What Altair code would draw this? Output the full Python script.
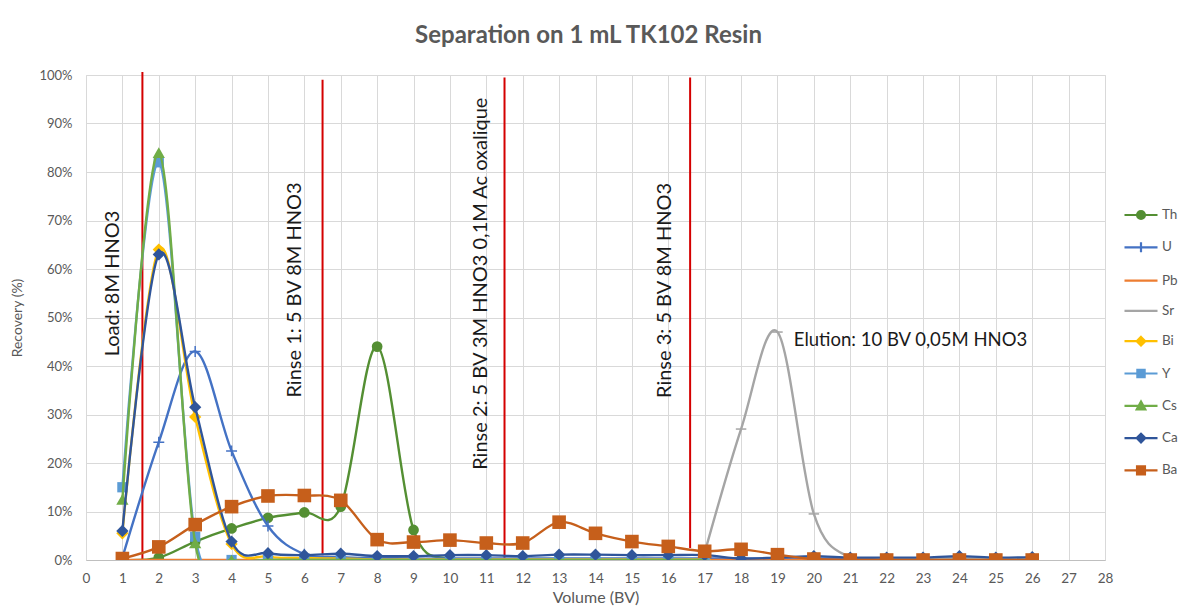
import altair as alt
import pandas as pd

series = ["Th", "U", "Pb", "Sr", "Bi", "Y", "Cs", "Ca", "Ba"]
colors = ["#548f33", "#4472c4", "#ed7d31", "#a5a5a5", "#ffc000", "#5b9bd5", "#70ad47", "#2f559a", "#c65f1b"]

volume = list(range(1, 27))

th = [0, 0.5, 3.8, 6.5, 8.7, 9.8, 11.0, 44.0, 6.2, 0.2] + [0] * 16
u = [0.5, 24.3, 43.0, 22.5, 7.0, 1.2, 0.6, 0.4] + [0.3] * 18
pb = [0] * 26
sr_vol = list(range(17, 27))
sr = [1.5, 27.0, 47.0, 9.5, 0.5, 0.3, 0.3, 0.3, 0.3, 0.3]
bi_vol = list(range(1, 18))
bi = [5.5, 64.0, 29.5, 3.3, 0.7, 0.4, 0.3] + [0.1] * 10
y_vol = list(range(1, 18))
yy = [15.0, 82.0, 4.8, 0] + [0] * 13
cs_vol = list(range(1, 18))
cs = [12.5, 84.0, 3.5, 0] + [0] * 13
ca = [6.0, 63.0, 31.5, 3.8, 1.4, 1.0, 1.3, 0.8, 0.8, 1.0, 1.0, 0.8, 1.1, 1.1, 1.0, 1.0, 1.0,
      0.3, 0.5, 0.8, 0.5, 0.5, 0.5, 0.8, 0.5, 0.6]
ba = [0.3, 2.7, 7.3, 11.0, 13.2, 13.3, 12.3, 4.2, 3.7, 4.1, 3.5, 3.5, 7.8, 5.5, 3.8, 2.8, 1.8,
      2.2, 1.1, 0.2, 0, 0, 0, 0, 0, 0]

values = {
    "Th": (volume, th), "U": (volume, u), "Pb": (volume, pb), "Sr": (sr_vol, sr),
    "Bi": (bi_vol, bi), "Y": (y_vol, yy), "Cs": (cs_vol, cs), "Ca": (volume, ca), "Ba": (volume, ba),
}

rows = []
for s in series:
    xs, vs = values[s]
    for xv, vv in zip(xs, vs):
        rows.append({"series": s, "x": xv, "y": vv / 100.0})
df = pd.DataFrame(rows)

rule_x = [1.55, 6.5, 11.5, 16.6]
rule_top = [1.006, 0.99, 0.995, 0.995]
rule_bottom = [0.0, 0.01, 0.004, 0.025]
rules = pd.DataFrame({"x": rule_x, "y": rule_bottom, "top": rule_top})

vert_labels = ["Load: 8M HNO3", "Rinse 1: 5 BV 8M HNO3",
               "Rinse 2: 5 BV 3M HNO3 0,1M  Ac oxalique", "Rinse 3: 5 BV 8M HNO3"]
vert_x = [0.755, 5.74, 10.85, 15.9]
vert_y = [0.42, 0.335, 0.186, 0.334]
vert = pd.DataFrame({"x": vert_x, "y": vert_y, "t": vert_labels})
elution = pd.DataFrame({"x": [19.45], "y": [0.454], "t": ["Elution: 10 BV 0,05M HNO3"]})

FONT = "Lato"
GRAY = "#595959"

xaxis = alt.Axis(values=list(range(29)), title="Volume (BV)", grid=True,
                 gridColor="#d9d9d9", domainColor="#bfbfbf", ticks=False,
                 labelOverlap=False, labelFlush=False,
                 labelFont=FONT, labelFontSize=13.5, labelColor=GRAY, labelPadding=11,
                 titleFont=FONT, titleFontSize=16, titleColor=GRAY, titleFontWeight="normal",
                 titlePadding=5)
yaxis = alt.Axis(values=[i / 10 for i in range(11)], format=".0%", title="Recovery (%)",
                 grid=True, gridColor="#d9d9d9", domain=False, ticks=False,
                 labelOverlap=False, labelFlush=False,
                 labelFont=FONT, labelFontSize=13, labelColor=GRAY, labelPadding=14,
                 titleFont=FONT, titleFontSize=14, titleColor=GRAY, titleFontWeight="normal",
                 titlePadding=14)
xscale = alt.Scale(domain=[0, 28], nice=False)
yscale = alt.Scale(domain=[0, 1], nice=False)
xenc = alt.X("x:Q", scale=xscale, axis=xaxis)
yenc = alt.Y("y:Q", scale=yscale, axis=yaxis)

shape_plot = {"Th": "circle", "U": "M-1,0H1M0,-1V1", "Pb": "M-1,0H1", "Sr": "M-1,0H1",
              "Bi": "diamond", "Y": "square", "Cs": "triangle-up", "Ca": "diamond", "Ba": "square"}
size_plot = {"Th": 115, "U": 120, "Pb": 0, "Sr": 110, "Bi": 150, "Y": 105, "Cs": 150, "Ca": 150, "Ba": 185}
filled_plot = {"Th": True, "U": False, "Pb": False, "Sr": False, "Bi": True, "Y": True,
               "Cs": True, "Ca": True, "Ba": True}

rule_layer = alt.Chart(rules).mark_rule(color="#d40000", strokeWidth=2).encode(
    x=xenc, y=yenc, y2="top:Q")

layers = []
base = alt.Chart(df)
for s, c in zip(series, colors):
    sub = base.transform_filter(alt.datum.series == s)
    line = sub.mark_line(interpolate="cardinal", color=c, strokeWidth=2.4, clip=True).encode(
        x=xenc, y=yenc)
    layers.append(line)
    if size_plot[s] > 0:
        pts = sub.mark_point(shape=shape_plot[s], filled=filled_plot[s], color=c, size=size_plot[s],
                             strokeWidth=1.5 if not filled_plot[s] else 1, opacity=1, clip=True).encode(
            x=xenc, y=yenc)
        layers.append(pts)

vtext = alt.Chart(vert).mark_text(angle=270, align="left", baseline="middle", font=FONT,
                                   fontSize=20, color="#1a1a1a").encode(x=xenc, y=yenc, text="t:N")
etext = alt.Chart(elution).mark_text(align="left", baseline="middle", font=FONT,
                                      fontSize=18.5, color="#1a1a1a").encode(x=xenc, y=yenc, text="t:N")

legend_shapes = [
    "M-1,0H1M-0.24,0A0.24,0.24 0 1,0 0.24,0A0.24,0.24 0 1,0 -0.24,0Z",
    "M-1,0H1M0,-0.3V0.3",
    "M-1,0H1",
    "M-1,0H1",
    "M-1,0H1M0,-0.26L0.26,0L0,0.26L-0.26,0Z",
    "M-1,0H1M-0.22,-0.22H0.22V0.22H-0.22Z",
    "M-1,0H1M0,-0.26L0.26,0.22L-0.26,0.22Z",
    "M-1,0H1M0,-0.26L0.26,0L0,0.26L-0.26,0Z",
    "M-1,0H1M-0.24,-0.24H0.24V0.24H-0.24Z",
]
leg = alt.Legend(title=None, orient="none", legendX=1037, legendY=122, labelFont=FONT,
                 labelFontSize=13.5, labelColor=GRAY, symbolSize=1090, symbolStrokeWidth=2.2,
                 symbolOpacity=1, rowPadding=5.3, labelOffset=3)
legend_layer = alt.Chart(df).mark_point(filled=True, opacity=0, size=1).encode(
    x=xenc, y=yenc,
    fill=alt.Fill("series:N", scale=alt.Scale(domain=series, range=colors), legend=leg),
    stroke=alt.Stroke("series:N", scale=alt.Scale(domain=series, range=colors), legend=leg),
    shape=alt.Shape("series:N", scale=alt.Scale(domain=series, range=legend_shapes), legend=leg),
)

chart = alt.layer(rule_layer, *layers, vtext, etext, legend_layer).properties(
    width=1019, height=485,
    title=alt.Title("Separation on 1 mL TK102 Resin", font=FONT, fontSize=24, fontWeight="bold",
                    color=GRAY, anchor="middle", offset=21, dx=-7),
    autosize=alt.AutoSizeParams(type="none"),
    padding={"left": 86, "top": 75, "right": 76, "bottom": 53},
).configure_view(strokeWidth=0).configure_axis(labelOverlap=False).configure(background="white")

chart.save("out.html", embed_options={"renderer": "svg", "actions": False})
